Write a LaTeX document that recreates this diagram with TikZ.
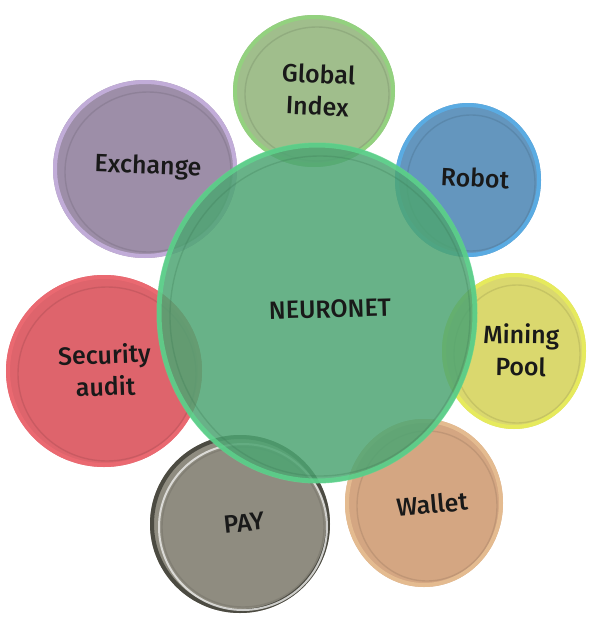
\documentclass[tikz,border=0pt]{standalone}
\usepackage{fontspec}
\setmainfont{Fira Sans}[UprightFont=* Medium]

\definecolor{hubfill}{HTML}{4EA573}
\definecolor{hubring}{HTML}{5FD98F}
\definecolor{exchfill}{HTML}{9D8EA8}
\definecolor{exchring}{HTML}{C6B0DE}
\definecolor{globfill}{HTML}{A0BE8C}
\definecolor{globring}{HTML}{92D47E}
\definecolor{robofill}{HTML}{6496BE}
\definecolor{roboring}{HTML}{5AAEE6}
\definecolor{minefill}{HTML}{DAD86E}
\definecolor{minering}{HTML}{E8EC5C}
\definecolor{walfill}{HTML}{D4A682}
\definecolor{walring}{HTML}{E6BE92}
\definecolor{payfill}{HTML}{8F8C80}
\definecolor{payring}{HTML}{45443C}
\definecolor{secfill}{HTML}{DE646C}
\definecolor{secring}{HTML}{EC6A72}

\tikzset{
  disclabel/.style={font=\fontsize{25}{32}\selectfont,text=black!90,align=center,inner sep=0pt},
}

\begin{document}
\begin{tikzpicture}[x=1pt,y=-1pt]
\useasboundingbox (0,0) rectangle (608,640);
% satellites
\foreach \cx/\cy/\rx/\ry/\col in {145/169/92/89/exch,314/91/81/76/glob,468/180/73/77/robo,
    514/351/72/78/mine,424/503/79/84/wal,240/524/90/89/pay,104/371/98/96/sec}{
  \fill[\col fill] (\cx,\cy) ellipse [x radius=\rx, y radius=\ry];
  \draw[\col ring,line width=4pt,opacity=.9] (\cx,\cy) ellipse [x radius=\rx-2, y radius=\ry-2];
  \draw[\col fill!70!black,line width=1.4pt,opacity=.3] (\cx+3,\cy+3) ellipse [x radius=\rx-9, y radius=\ry-9];
}
% light rim on PAY
\draw[white!85!payfill,line width=2pt,opacity=.8] (243,527) ellipse [x radius=84, y radius=83];
% hub
\fill[hubfill,fill opacity=.85] (317,313) ellipse [x radius=160, y radius=170];
\draw[hubring,line width=5pt,opacity=.75] (317,313) ellipse [x radius=158, y radius=168];
\draw[hubfill!70!black,line width=1.4pt,opacity=.25] (320,316) ellipse [x radius=150, y radius=160];
% texts
\node[disclabel,rotate=1.5] (hub) at (330,309) {NEURONET};
\node[disclabel,rotate=-2] (exchange) at (148,167) {Exchange};
\node[disclabel,rotate=-2.5] (index) at (318,90) {Global\\Index};
\node[disclabel,rotate=-3] (robot) at (475,178) {Robot};
\node[disclabel,rotate=-1] (pool) at (521,350) {Mining\\Pool};
\node[disclabel,rotate=5] (wallet) at (432,504) {Wallet};
\node[disclabel,rotate=6] (pay) at (244,523) {PAY};
\node[disclabel,rotate=2] (audit) at (105,370) {Security\\audit};
\end{tikzpicture}
\end{document}
